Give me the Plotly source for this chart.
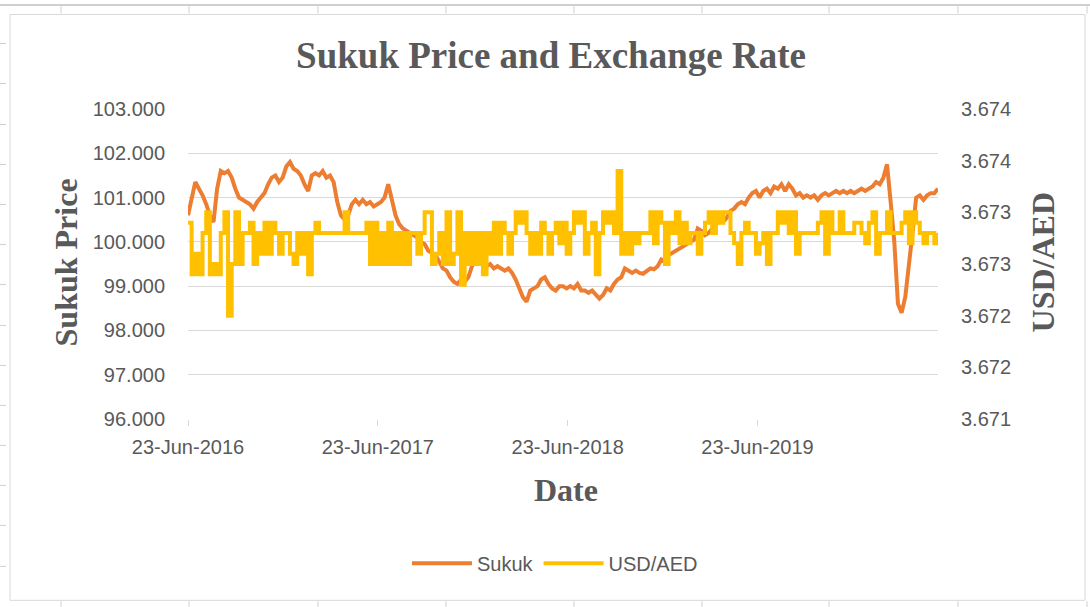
import pandas as pd
import plotly.graph_objects as go

# ---------------- data ----------------
start_date = "2016-06-23"
n_weeks = 207
dates = pd.date_range(start_date, periods=n_weeks, freq="7D")

sukuk = [
    100.6, 101.0, 101.35, 101.2, 101.05, 100.85, 100.6, 100.45, 101.2, 101.6,
    101.55, 101.6, 101.45, 101.2, 101.0, 100.95, 100.9, 100.85, 100.75, 100.9,
    101.0, 101.1, 101.3, 101.45, 101.5, 101.35, 101.45, 101.7, 101.8, 101.65,
    101.6, 101.5, 101.3, 101.15, 101.5, 101.55, 101.5, 101.6, 101.45, 101.5,
    101.35, 100.9, 100.6, 100.5, 100.6, 100.85, 100.95, 100.85, 100.95, 100.85,
    100.9, 100.8, 100.85, 100.9, 101.0, 101.3, 100.95, 100.6, 100.4, 100.3,
    100.25, 100.2, 100.15, 100.1, 100.0, 99.95, 99.8, 99.75, 99.7, 99.55,
    99.4, 99.35, 99.2, 99.1, 99.05, 99.15, 99.1, 99.2, 99.45, 99.55,
    99.6, 99.55, 99.45, 99.5, 99.4, 99.45, 99.4, 99.35, 99.4, 99.3,
    99.15, 98.95, 98.75, 98.65, 98.9, 98.95, 99.0, 99.15, 99.2, 99.05,
    98.95, 98.9, 99.0, 99.0, 98.95, 99.0, 98.95, 99.05, 98.9, 98.9,
    98.85, 98.9, 98.8, 98.72, 98.8, 98.95, 98.9, 99.05, 99.15, 99.2,
    99.4, 99.35, 99.3, 99.35, 99.3, 99.28, 99.35, 99.4, 99.38, 99.45,
    99.6, 99.55, 99.7, 99.75, 99.8, 99.85, 99.9, 99.95, 100.0, 100.05,
    100.3, 100.25, 100.15, 100.2, 100.3, 100.4, 100.5, 100.45, 100.55, 100.7,
    100.75, 100.85, 100.9, 100.85, 101.0, 101.1, 101.15, 101.0, 101.15, 101.2,
    101.1, 101.25, 101.2, 101.3, 101.15, 101.3, 101.2, 101.05, 101.1, 101.0,
    101.05, 101.0, 101.05, 100.95, 101.05, 101.1, 101.05, 101.1, 101.15, 101.1,
    101.15, 101.1, 101.15, 101.1, 101.15, 101.2, 101.15, 101.2, 101.25, 101.35,
    101.3, 101.45, 101.75, 100.9, 100.0, 98.6, 98.4, 98.75, 99.4, 100.2,
    101.0, 101.05, 100.95, 101.05, 101.1, 101.1, 101.2,
]

usd_aed = [
    3.6729, 3.6724, 3.6726, 3.6724, 3.6728, 3.6730, 3.6724, 3.6725, 3.6724, 3.6728,
    3.6730, 3.6720, 3.6725, 3.6730, 3.6725, 3.6728, 3.6728, 3.6729, 3.6725, 3.6728,
    3.6726, 3.6729, 3.6726, 3.6729, 3.6728, 3.6726, 3.6728, 3.6728, 3.6726, 3.6725,
    3.6728, 3.6726, 3.6728, 3.6724, 3.6728, 3.6729, 3.6728, 3.6728, 3.6728, 3.6728,
    3.6728, 3.6728, 3.6728, 3.6730, 3.6728, 3.6728, 3.6728, 3.6728, 3.6728, 3.6729,
    3.6725, 3.6729, 3.6725, 3.6728, 3.6725, 3.6729, 3.6725, 3.6728, 3.6725, 3.6728,
    3.6725, 3.6728, 3.6728, 3.6726, 3.6728, 3.6730, 3.6730, 3.6725, 3.6726, 3.6728,
    3.6725, 3.6730, 3.6725, 3.6726, 3.6730, 3.6723, 3.6728, 3.6725, 3.6728, 3.6725,
    3.6728, 3.6724, 3.6728, 3.6726, 3.6729, 3.6726, 3.6729, 3.6728, 3.6726, 3.6728,
    3.6730, 3.6729, 3.6730, 3.6728, 3.6726, 3.6728, 3.6726, 3.6729, 3.6728, 3.6726,
    3.6728, 3.6729, 3.6727, 3.6729, 3.6726, 3.6728, 3.6730, 3.6729, 3.6730, 3.6726,
    3.6728, 3.6729, 3.6724, 3.6728, 3.6730, 3.6729, 3.6730, 3.6728, 3.6734, 3.6726,
    3.6728, 3.6726, 3.6728, 3.6727, 3.6728, 3.6728, 3.6728, 3.6730, 3.6727, 3.6730,
    3.6729, 3.6725, 3.6729, 3.6728, 3.6730, 3.6727, 3.6729, 3.6727, 3.6728, 3.6728,
    3.6726, 3.6728, 3.6729, 3.6730, 3.6728, 3.6730, 3.6729, 3.6730, 3.6730, 3.6728,
    3.6727, 3.6725, 3.6728, 3.6729, 3.6728, 3.6728, 3.6726, 3.6727, 3.6728, 3.6725,
    3.6728, 3.6728, 3.6730, 3.6729, 3.6730, 3.6728, 3.6730, 3.6726, 3.6728, 3.6728,
    3.6728, 3.6728, 3.6728, 3.6729, 3.6730, 3.6726, 3.6730, 3.6728, 3.6728, 3.6730,
    3.6728, 3.6728, 3.6728, 3.6729, 3.6729, 3.6728, 3.6727, 3.6729, 3.6730, 3.6726,
    3.6728, 3.6728, 3.6730, 3.6728, 3.6728, 3.6728, 3.6729, 3.6730, 3.6727, 3.6730,
    3.6729, 3.6728, 3.6727, 3.6728, 3.6728, 3.6727, 3.6728,
]

x_end = "2020-06-04"
y_left_ticks = [96, 97, 98, 99, 100, 101, 102, 103]
y_right_ticks = [3.6710, 3.6715, 3.6720, 3.6725, 3.6730, 3.6735, 3.6740]
y_right_labels = ["3.671", "3.672", "3.672", "3.673", "3.673", "3.674", "3.674"]

# ---------------- styling ----------------
W, H = 1090, 607
L, R, T, B = 188, 938, 108.5, 418.6
TXT = "#595959"
GRID = "#D9D9D9"
SANS = "Liberation Sans, Arial, sans-serif"
SERIF = "Liberation Serif, Times New Roman, serif"


def px(x):
    return (x - L) / (R - L)


def py(y):
    return (B - y) / (B - T)


fig = go.Figure()
fig.add_trace(go.Scatter(
    x=dates, y=sukuk, name="Sukuk", mode="lines",
    line=dict(color="#ED7D31", width=4), yaxis="y",
))
fig.add_trace(go.Scatter(
    x=dates, y=usd_aed, name="USD/AED", mode="lines",
    line=dict(color="#FFC000", width=4, shape="hv"), yaxis="y2",
))

shapes = []
# chart area border
shapes.append(dict(type="rect", xref="paper", yref="paper",
                   x0=px(10), x1=px(1085), y0=py(600), y1=py(14),
                   line=dict(color="#D9D9D9", width=1), layer="below"))
# spreadsheet background lines
shapes.append(dict(type="line", xref="paper", yref="paper",
                   x0=px(0), x1=px(1090), y0=py(4.5), y1=py(4.5),
                   line=dict(color="#BFBFBF", width=1.5), layer="below"))
for xc in [61, 189, 318, 446, 574, 702, 829, 958, 1087]:
    shapes.append(dict(type="line", xref="paper", yref="paper",
                       x0=px(xc), x1=px(xc), y0=py(4), y1=py(13),
                       line=dict(color="#D0D0D0", width=1), layer="below"))
    shapes.append(dict(type="line", xref="paper", yref="paper",
                       x0=px(xc), x1=px(xc), y0=py(601), y1=py(607),
                       line=dict(color="#D0D0D0", width=1), layer="below"))
for yr in [43, 83, 124, 164, 204, 244, 284, 325, 365, 405, 445, 485, 525, 566]:
    shapes.append(dict(type="line", xref="paper", yref="paper",
                       x0=px(0), x1=px(6), y0=py(yr), y1=py(yr),
                       line=dict(color="#D0D0D0", width=1), layer="below"))

annotations = [
    dict(text="<b>Sukuk Price</b>", xref="paper", yref="paper",
         x=px(66), y=py(262), xanchor="center", yanchor="middle",
         showarrow=False, textangle=-90,
         font=dict(family=SERIF, size=32, color=TXT)),
    dict(text="<b>USD/AED</b>", xref="paper", yref="paper",
         x=px(1043), y=py(262), xanchor="center", yanchor="middle",
         showarrow=False, textangle=-90,
         font=dict(family=SERIF, size=32, color=TXT)),
    dict(text="<b>Date</b>", xref="paper", yref="paper",
         x=px(566), y=py(490), xanchor="center", yanchor="middle",
         showarrow=False,
         font=dict(family=SERIF, size=32, color=TXT)),
]

fig.update_layout(
    width=W, height=H,
    margin=dict(l=L, r=W - R, t=T, b=H - B, pad=0),
    paper_bgcolor="white", plot_bgcolor="white",
    title=dict(text="<b>Sukuk Price and Exchange Rate</b>",
               x=551 / W, xanchor="center", y=1 - 55 / H, yanchor="middle",
               font=dict(family=SERIF, size=37, color=TXT)),
    xaxis=dict(
        type="date", range=[start_date, x_end],
        tick0=start_date, dtick="M12", tickformat="%d-%b-%Y",
        showgrid=False, zeroline=False,
        showline=False, ticks="outside", ticklen=6, tickcolor=GRID,
        tickfont=dict(family=SANS, size=20, color=TXT),
        ticklabelstandoff=4,
    ),
    yaxis=dict(
        range=[96, 103], tickvals=y_left_ticks, tickformat=".3f",
        showgrid=True, gridcolor=GRID, gridwidth=1.2, zeroline=False,
        showline=False, ticks="",
        tickfont=dict(family=SANS, size=20, color=TXT),
        ticklabelstandoff=22,
    ),
    yaxis2=dict(
        range=[3.6710, 3.6740], overlaying="y", side="right",
        tickvals=y_right_ticks, ticktext=y_right_labels,
        showgrid=False, zeroline=False, showline=False, ticks="",
        tickfont=dict(family=SANS, size=20, color=TXT),
        ticklabelstandoff=22,
    ),
    legend=dict(orientation="h", x=px(555), xanchor="center",
                y=py(563), yanchor="middle",
                font=dict(family=SANS, size=20, color=TXT),
                itemwidth=60, bgcolor="rgba(0,0,0,0)"),
    shapes=shapes,
    annotations=annotations,
)

fig.write_html(
    "out.html",
    config={"displayModeBar": False},
    post_script="document.body.style.margin='0';document.body.style.overflow='hidden';",
)
